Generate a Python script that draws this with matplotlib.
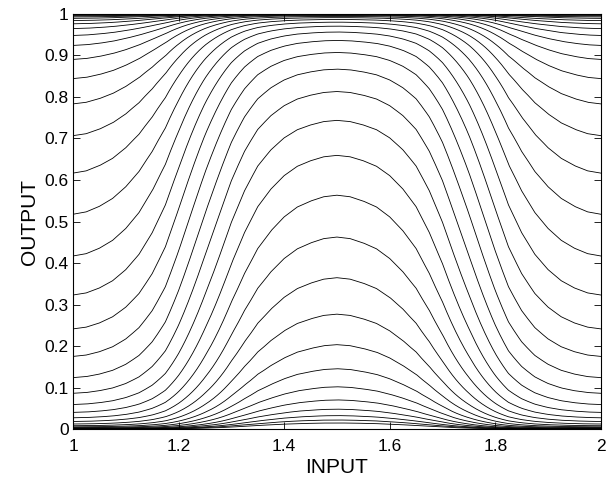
import numpy as np
import matplotlib
matplotlib.use("Agg")
import matplotlib.pyplot as plt

plt.rcParams['font.family'] = ['Liberation Sans', 'DejaVu Sans']

start_vals = [0.0003, 0.0005, 0.0007, 0.0011, 0.0016, 0.0025, 0.0037, 0.0055,
              0.0082, 0.0123, 0.0184, 0.0273, 0.0403, 0.0592, 0.0863, 0.1240,
              0.1751, 0.2414, 0.3230, 0.4170, 0.5175, 0.6166, 0.7068, 0.7833,
              0.8442, 0.8904, 0.9241, 0.9481, 0.9647, 0.9762, 0.9840, 0.9893,
              0.9928, 0.9952, 0.9968, 0.9979, 0.9986, 0.9990, 0.9994, 0.9996,
              0.9997]

# output of the same curves at INPUT = 1.5 (the peak)
peak_vals = [0.0148, 0.0220, 0.0326, 0.0481, 0.0704, 0.1020, 0.1455, 0.2034,
             0.2769, 0.3647, 0.4626, 0.5634, 0.6593, 0.7436, 0.8131, 0.8671,
             0.9072, 0.9362, 0.9565, 0.9706, 0.9802, 0.9867, 0.9911, 0.9940,
             0.9960, 0.9973, 0.9982, 0.9988, 0.9992, 0.9995, 0.9996, 0.9998,
             0.9998, 0.99985, 0.9999, 0.9999, 0.99993, 0.99995, 0.99996, 0.99997,
             0.99998]

# shape of the rise (fraction of the log-odds change) from INPUT 1 to 1.5
prof_x = [1.0, 1.025, 1.05, 1.075, 1.1, 1.125, 1.15, 1.175, 1.2, 1.225, 1.25,
          1.275, 1.3, 1.325, 1.35, 1.375, 1.4, 1.425, 1.45, 1.475, 1.5]
prof_v = [0.0, 0.006, 0.02, 0.04, 0.07, 0.11, 0.165, 0.235, 0.33, 0.43, 0.53,
          0.625, 0.72, 0.80, 0.865, 0.91, 0.945, 0.97, 0.985, 0.996, 1.0]

xticks = [1, 1.2, 1.4, 1.6, 1.8, 2]
xtick_labels = ["1", "1.2", "1.4", "1.6", "1.8", "2"]
yticks = [0, 0.1, 0.2, 0.3, 0.4, 0.5, 0.6, 0.7, 0.8, 0.9, 1]
ytick_labels = ["0", "0.1", "0.2", "0.3", "0.4", "0.5", "0.6", "0.7", "0.8", "0.9", "1"]


def logit(p):
    p = np.asarray(p, dtype=float)
    return np.log(p / (1 - p))


x = np.linspace(1, 2, 601)
# right half mirrors the left half
xm = np.where(x <= 1.5, x, 3 - x)
shape = np.interp(xm, prof_x, prof_v)

fig = plt.figure(figsize=(6.15, 4.8), dpi=100)
ax = fig.add_axes([0.1187, 0.106, 0.977 - 0.1187, 0.971 - 0.106])

for s, p in zip(start_vals, peak_vals):
    ls, lp = logit(s), logit(p)
    z = ls + (lp - ls) * shape
    ax.plot(x, 1 / (1 + np.exp(-z)), color="black", lw=0.6)

ax.set_xlim(1, 2)
ax.set_ylim(0, 1)
ax.set_xticks(xticks)
ax.set_xticklabels(xtick_labels)
ax.set_yticks(yticks)
ax.set_yticklabels(ytick_labels)
ax.tick_params(direction="in", top=True, right=True, length=5, labelsize=12.5, width=0.6)
ax.tick_params(axis="x", pad=7)
ax.tick_params(axis="y", pad=3)
for sp in ax.spines.values():
    sp.set_linewidth(0.8)
ax.set_xlabel("INPUT", fontsize=15, labelpad=3)
ax.set_ylabel("OUTPUT", fontsize=15, labelpad=4)

fig.savefig("out.png", dpi=100)
